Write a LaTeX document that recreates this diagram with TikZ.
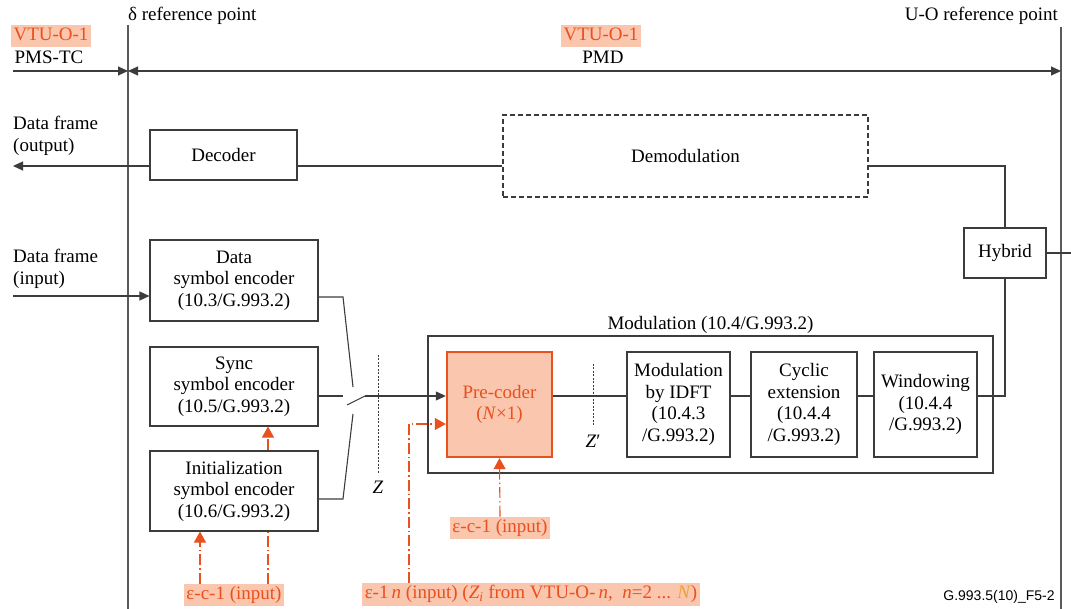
\documentclass[tikz,border=0pt]{standalone}
\usepackage{fontspec}
\setmainfont{Liberation Serif}
\newfontfamily\figsans{Liberation Sans}
\usetikzlibrary{arrows.meta}
\usetikzlibrary{positioning}

\definecolor{vtured}{HTML}{E8501E}
\definecolor{vtufill}{HTML}{FBC6AE}
\definecolor{vtuamber}{HTML}{F0A030}
\definecolor{wiregray}{HTML}{3C3C3C}
\definecolor{refgray}{HTML}{5A5A5A}

\tikzset{
  box/.style={draw=wiregray, line width=1.1pt, fill=white, align=center, inner sep=0pt},
  tag/.style={fill=vtufill, text=vtured, inner xsep=2.5pt, inner ysep=2.5pt, text height=13pt, text depth=4.5pt},
  wire/.style={draw=wiregray, line width=1.1pt},
  arrowto/.style={-{Triangle[length=10pt,width=9pt]}},
  cue/.style={draw=vtured, line width=1.1pt, dash pattern=on 11pt off 3pt on 1.5pt off 3pt},
  cuetip/.style={cue, -{Triangle[length=11pt,width=12pt]}},
  refline/.style={draw=refgray, line width=1.5pt},
  zmark/.style={draw=wiregray, line width=0.9pt, dash pattern=on 2pt off 1.5pt},
}

\begin{document}
\begin{tikzpicture}[x=1pt,y=-1pt,font=\fontsize{19}{21.5}\selectfont]
  \useasboundingbox (0,0) rectangle (1071,609);
  %
  % reference points
  \draw[refline] (128,25) -- (128,609);
  \draw[refline] (1061,27) -- (1061,609);
  \node[anchor=base west,inner sep=0pt] (deltaref) at (128,21) {δ reference point};
  \node[anchor=base east,inner sep=0pt] (uoref) at (1058,21) {U-O reference point};
  \node[tag] (vtuleft) at (51,36) {VTU-O-1};
  \node[inner sep=0pt] (pmstc) at (49,57.5) {PMS-TC};
  \node[tag] (vtumid) at (601,36) {VTU-O-1};
  \node[inner sep=0pt] (pmd) at (603,57.5) {PMD};
  \coordinate (pmsin) at (13,71);
  \coordinate (delta) at (128,71);
  \coordinate (uo) at (1061,71);
  \draw[wire,arrowto] (pmsin) -- (delta);
  \draw[wire,{Triangle[length=10pt,width=9pt]}-{Triangle[length=10pt,width=9pt]}] (delta) -- (uo);

  % receive path
  \node[anchor=west,align=left,inner sep=0pt] (dfout) at (13,136) {Data frame\\(output)};
  \node[box,minimum width=147,minimum height=50] (decoder) at (223.5,155) {Decoder};
  \node[box,dash pattern=on 5pt off 3pt,minimum width=365,minimum height=82] (demod) at (685.5,156) {Demodulation};
  \node[box,minimum width=82,minimum height=50] (hybrid) at (1005,253) {Hybrid};
  \coordinate (rxline) at (13,166);
  \coordinate (lineout) at (1071,253);
  \draw[wire,arrowto] (decoder.west |- rxline) -- (rxline);
  \draw[wire] (decoder.east |- rxline) -- (demod.west |- rxline);
  \draw[wire] (demod.east |- rxline) -| (hybrid.north);
  \draw[wire] (hybrid.east) -- (lineout);

  % transmit encoders
  \node[anchor=west,align=left,inner sep=0pt] (dfin) at (13,269) {Data frame\\(input)};
  \foreach \name/\ypos/\high/\body in {dataenc/280.5/81/{Data\\symbol encoder\\(10.3/G.993.2)},
      syncenc/386.5/79/{Sync\\symbol encoder\\(10.5/G.993.2)},
      initenc/491/80/{Initialization\\symbol encoder\\(10.6/G.993.2)}} {
    \node[box,minimum width=168,minimum height=\high] (\name) at (234,\ypos) {\body};
  }
  \coordinate (txline) at (13,296);
  \draw[wire,arrowto] (txline) -- (dataenc.west |- txline);

  % modulation
  \node[box,minimum width=565,minimum height=137] (modbox) at (710.5,404.5) {};
  \node[above=2pt of modbox,inner sep=0pt] (modtitle) {Modulation (10.4/G.993.2)};
  \node[box,fill=vtufill,draw=vtured,line width=2.4pt,text=vtured,minimum width=105,minimum height=105] (precoder) at (499.5,404.5) {Pre-coder\\(\textit{N}×1)};
  \foreach \name/\xpos/\wide/\body in {idft/678.5/103/{Modulation\\by IDFT\\(10.4.3\\/G.993.2)},
      cyclic/804/106/{Cyclic\\extension\\(10.4.4\\/G.993.2)},
      window/925.5/103/{Windowing\\(10.4.4\\/G.993.2)}} {
    \node[box,minimum width=\wide,minimum height=105] (\name) at (\xpos,404.5) {\body};
  }
  \coordinate (chain) at (0,396);
  \draw[wire] (precoder.east |- chain) -- (idft.west |- chain);
  \draw[wire] (idft.east |- chain) -- (cyclic.west |- chain);
  \draw[wire] (cyclic.east |- chain) -- (window.west |- chain);
  \draw[wire] (window.east |- chain) -| (hybrid.south);

  % switch
  \coordinate (swdata) at (343,297);
  \coordinate (swdatatip) at (353,387);
  \coordinate (swsync) at (343,396);
  \coordinate (swinit) at (343,499);
  \coordinate (swinittip) at (353,414);
  \coordinate (armlo) at (347,405);
  \coordinate (armhi) at (365,396);
  \draw[wire] (dataenc.east |- swdata) -- (swdata) -- (swdatatip);
  \draw[wire] (syncenc.east |- swsync) -- (swsync);
  \draw[wire] (initenc.east |- swinit) -- (swinit) -- (swinittip);
  \draw[wire] (armlo) -- (armhi);
  \draw[wire,arrowto] (armhi) -- (precoder.west |- armhi);

  % Z reference lines
  \draw[zmark] (378,355) -- (378,473);
  \node[inner sep=0pt] (zlab) at (378,487) {\textit{Z}};
  \draw[zmark] (593,364) -- (593,427);
  \node[inner sep=0pt] (zprime) at (593,441) {\textit{Z}′};

  % epsilon inputs
  \node[tag] (eclow) at (234,595) {ε-c-1 (input)};
  \node[tag] (ecpre) at (500,528) {ε-c-1 (input)};
  \node[tag] (elink) at (531,594.5) {ε-1\,\textit{n} (input) (\textit{Z\textsubscript{i}} from VTU-O-\,\textit{n},\enspace\textit{n}=2 ... \textcolor{vtuamber}{\textit{N}})};
  \draw[cuetip] ([xshift=-34pt]eclow.north) -- ([xshift=-34pt]initenc.south);
  \draw[cue] ([xshift=34pt]eclow.north) -- ([xshift=34pt]initenc.south);
  \draw[cuetip] ([xshift=34pt]initenc.north) -- ([xshift=34pt]syncenc.south);
  \draw[cuetip] (ecpre.north) -- (precoder.south);
  \draw[cuetip] ([xshift=-122pt]elink.north) |- ([yshift=-19.5pt]precoder.west);

  \node[font=\figsans\fontsize{14}{16}\selectfont,inner sep=0pt] (figid) at (999,597) {G.993.5(10)\_F5-2};
\end{tikzpicture}
\end{document}
